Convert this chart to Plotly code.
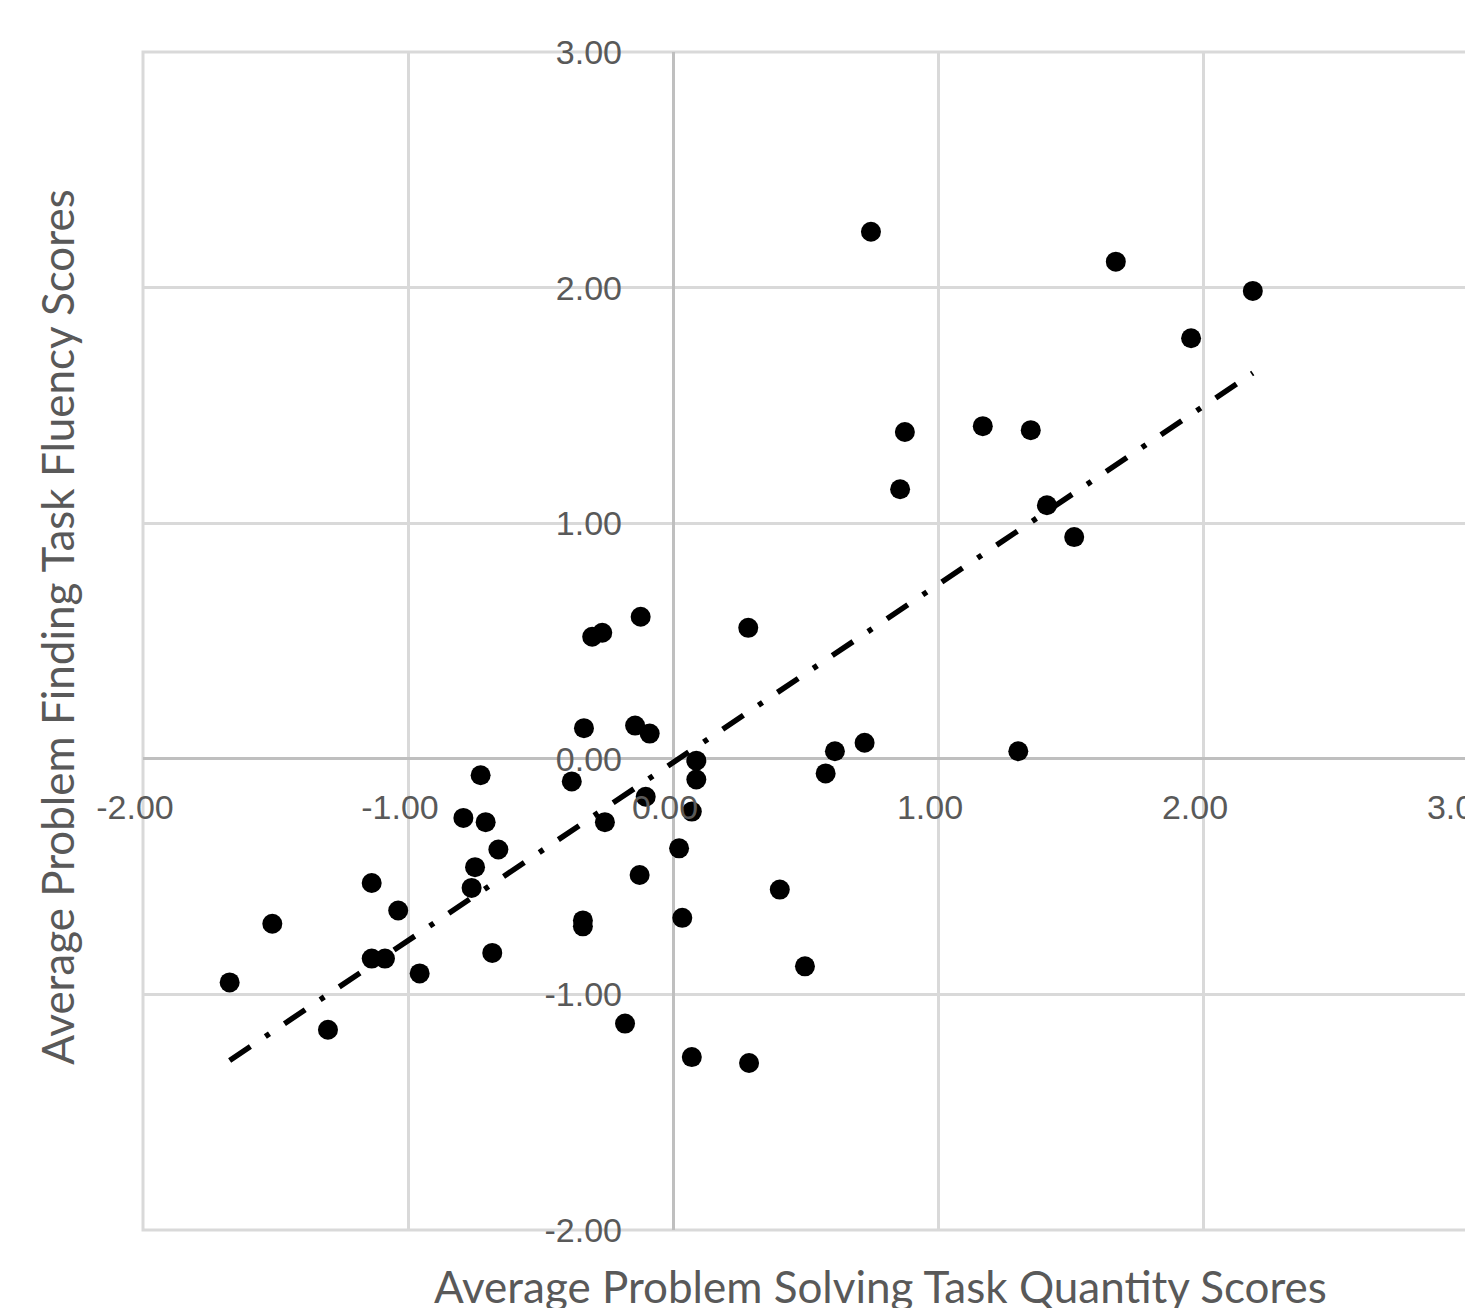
import numpy as np
import plotly.graph_objects as go

# Data
x_scores = [-1.673, -1.512, -1.302, -1.137, -1.137, -1.087, -1.037, -0.956, -0.791, -0.726,
            -0.707, -0.760, -0.747, -0.682, -0.659, -0.382, -0.336, -0.340, -0.340, -0.305,
            -0.267, -0.257, -0.181, -0.143, -0.126, -0.122, -0.103, -0.088, 0.023, 0.035,
            0.071, 0.071, 0.088, 0.088, 0.284, 0.287, 0.403, 0.498, 0.576, 0.611,
            0.723, 0.747, 0.857, 0.875, 1.169, 1.303, 1.350, 1.411, 1.514, 1.671,
            1.955, 2.188]
y_scores = [-0.949, -0.700, -1.150, -0.527, -0.848, -0.848, -0.644, -0.911, -0.251, -0.070,
            -0.269, -0.548, -0.460, -0.824, -0.385, -0.096, 0.130, -0.686, -0.711, 0.518,
            0.535, -0.269, -1.124, 0.141, -0.493, 0.603, -0.161, 0.107, -0.380, -0.675,
            -1.266, -0.224, -0.088, -0.008, 0.556, -1.291, -0.555, -0.881, -0.062, 0.032,
            0.068, 2.237, 1.144, 1.387, 1.412, 0.032, 1.395, 1.076, 0.941, 2.110,
            1.785, 1.986]

tick_vals = [-2, -1, 0, 1, 2, 3]
x_tick_labels = ["-2.00", "-1.00", "0.00", "1.00", "2.00", "3.00"]
y_tick_labels = ["-2.00", "-1.00", "0.00", "1.00", "2.00", "3.00"]

x_title = "Average Problem Solving Task Quantity Scores"
y_title = "Average Problem Finding Task Fluency Scores"

# Linear trendline (least squares) spanning the data range
xa = np.array(x_scores)
ya = np.array(y_scores)
slope, intercept = np.polyfit(xa, ya, 1)
trend_x = [xa.min(), xa.max()]
trend_y = [slope * v + intercept for v in trend_x]

GRID = "#d9d9d9"
ZERO = "#bfbfbf"
TXT = "#595959"

fig = go.Figure()
fig.add_trace(go.Scatter(
    x=trend_x, y=trend_y, mode="lines",
    line=dict(color="black", width=5.5, dash="25px,18px,5px,18px"),
    hoverinfo="skip", showlegend=False,
))
fig.add_trace(go.Scatter(
    x=x_scores, y=y_scores, mode="markers",
    marker=dict(color="black", size=20),
    showlegend=False,
))

axis_common = dict(
    range=[-2, 3], tickmode="array", tickvals=tick_vals,
    showgrid=True, gridcolor=GRID, gridwidth=3,
    zeroline=True, zerolinecolor=ZERO, zerolinewidth=3,
    showline=False, ticks="",
    tickfont=dict(family="Liberation Sans, Arial, sans-serif", size=34, color=TXT),
    anchor="free", position=0.4, automargin=False,
    ticklabeloverflow="allow",
)

fig.update_xaxes(**axis_common, ticktext=x_tick_labels,
                 ticklabelstandoff=25, ticklabelshift=-8)
fig.update_yaxes(**axis_common, ticktext=y_tick_labels,
                 ticklabelstandoff=51)

fig.add_shape(type="rect", xref="paper", yref="paper", x0=0, y0=0, x1=1, y1=1,
              line=dict(color=GRID, width=3), layer="below")

title_font = dict(family="Lato, sans-serif", size=44, color=TXT)
fig.add_annotation(text=x_title, xref="paper", yref="paper",
                   x=0.5565, y=-0.0475, xanchor="center", yanchor="middle",
                   showarrow=False, font=title_font)
fig.add_annotation(text=y_title, xref="paper", yref="paper",
                   x=-0.065, y=0.512, xanchor="center", yanchor="middle",
                   textangle=-90, showarrow=False, font=title_font)

fig.update_layout(
    width=1465, height=1300,
    margin=dict(l=135, r=5, t=44, b=78),
    paper_bgcolor="white", plot_bgcolor="white",
    showlegend=False,
)

fig.write_html("out.html")
